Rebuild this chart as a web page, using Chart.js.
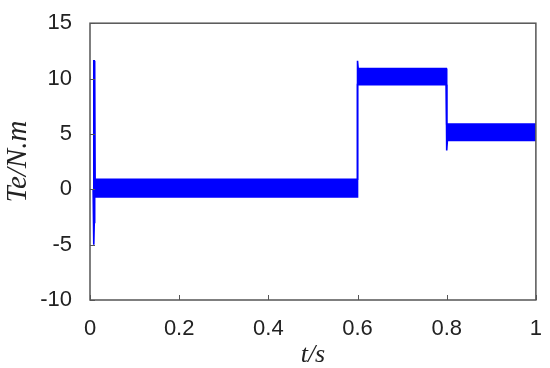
<!DOCTYPE html>
<html>
<head>
<meta charset="utf-8">
<script src="https://cdn.jsdelivr.net/npm/chart.js@4"></script>
<style>
  html, body { margin: 0; padding: 0; background: #fff; }
  #wrap { width: 550px; height: 368px; }
</style>
</head>
<body>
<div id="wrap"><canvas id="te-chart"></canvas></div>
<script>
// envelope of the torque trace (top / bottom of the ripple band)
const timeS = [0.007, 0.0085, 0.0095, 0.0105, 0.0115, 0.599, 0.6, 0.6015, 0.799, 0.8, 0.8015, 1];
const teUpper = [0, 11.6, 11.6, 11.3, 0.9, 0.9, 11.6, 10.9, 10.9, 5.9, 5.9, 5.9];
const teLower = [0, -5.0, -3.0, -0.7, -0.7, -0.7, 9.45, 9.45, 9.45, 3.5, 4.4, 4.4];
const xTicks = [0, 0.2, 0.4, 0.6, 0.8, 1];
const yTicks = [-10, -5, 0, 5, 10, 15];

const toPoints = (ys) => timeS.map((t, i) => ({ x: t, y: ys[i] }));

// MATLAB-like box with inward ticks
const boxPlugin = {
  id: 'box',
  afterDraw(chart) {
    const { ctx, chartArea: a, scales } = chart;
    ctx.save();
    ctx.strokeStyle = '#555';
    ctx.lineWidth = 1.5;
    ctx.strokeRect(a.left, a.top, a.right - a.left, a.bottom - a.top);
    ctx.lineWidth = 1;
    ctx.beginPath();
    xTicks.forEach((v) => {
      const px = Math.round(scales.x.getPixelForValue(v)) + 0.5;
      ctx.moveTo(px, a.bottom);
      ctx.lineTo(px, a.bottom - 5);
    });
    yTicks.forEach((v) => {
      const py = Math.round(scales.y.getPixelForValue(v)) + 0.5;
      ctx.moveTo(a.left, py);
      ctx.lineTo(a.left + 5, py);
    });
    ctx.stroke();
    ctx.restore();
  }
};

new Chart(document.getElementById('te-chart'), {
  type: 'line',
  data: {
    datasets: [
      {
        label: 'upper',
        data: toPoints(teUpper),
        borderColor: '#0000ff',
        borderWidth: 1.6,
        pointRadius: 0,
        fill: false
      },
      {
        label: 'lower',
        data: toPoints(teLower),
        borderColor: '#0000ff',
        backgroundColor: '#0000ff',
        borderWidth: 1.6,
        pointRadius: 0,
        fill: '-1'
      }
    ]
  },
  options: {
    responsive: true,
    maintainAspectRatio: false,
    animation: false,
    layout: { padding: { top: 17, right: 13, left: 0, bottom: 0 } },
    plugins: {
      legend: { display: false },
      tooltip: { enabled: false }
    },
    scales: {
      x: {
        type: 'linear',
        min: 0,
        max: 1,
        grid: { display: false },
        border: { display: false },
        afterBuildTicks(scale) {
          scale.ticks = xTicks.map((v) => ({ value: v }));
        },
        afterFit(scale) { scale.height = 68; },
        ticks: {
          color: '#222',
          padding: 8,
          maxRotation: 0,
          font: { family: '"Liberation Sans", Arial, sans-serif', size: 22 },
          callback: (v) => String(v)
        },
        title: {
          display: true,
          text: 't/s',
          color: '#222',
          padding: { top: 0, bottom: 0 },
          font: { family: '"Liberation Serif", "Times New Roman", serif', size: 26, style: 'italic', lineHeight: 1 }
        }
      },
      y: {
        min: -10,
        max: 15,
        grid: { display: false },
        border: { display: false },
        afterBuildTicks(scale) {
          scale.ticks = yTicks.map((v) => ({ value: v }));
        },
        afterFit(scale) { scale.width = 90; },
        ticks: {
          color: '#222',
          padding: 10,
          font: { family: '"Liberation Sans", Arial, sans-serif', size: 22 }
        },
        title: {
          display: true,
          text: 'Te/N.m',
          color: '#222',
          padding: { top: 4, bottom: 0 },
          font: { family: '"Liberation Serif", "Times New Roman", serif', size: 29, style: 'italic', lineHeight: 1 }
        }
      }
    }
  },
  plugins: [boxPlugin]
});
</script>
</body>
</html>
